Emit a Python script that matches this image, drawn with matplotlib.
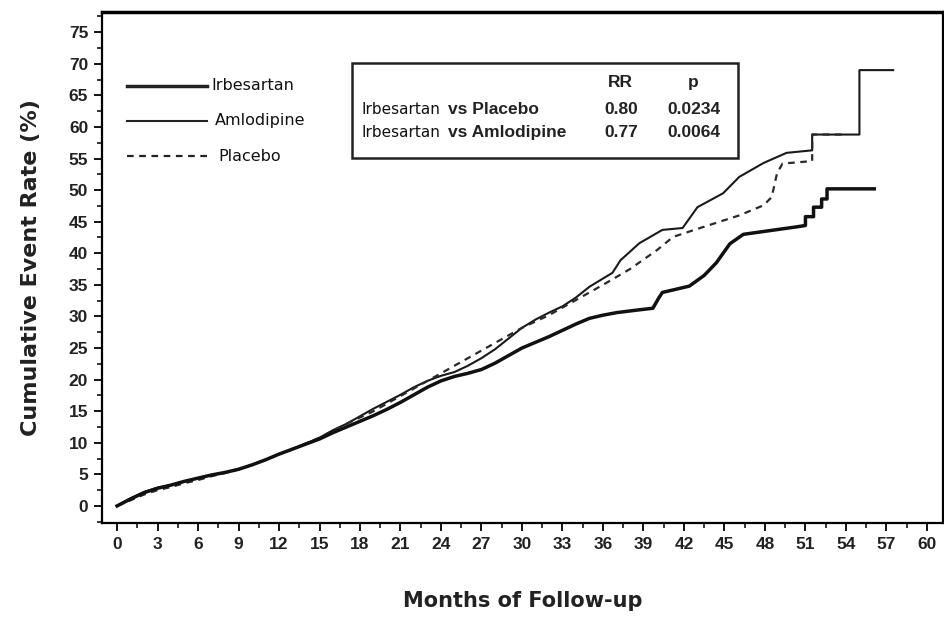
import matplotlib.pyplot as plt
from matplotlib.ticker import MultipleLocator
from matplotlib.patches import Rectangle

# months of follow-up and cumulative event rate (%)
irb_t = [0, 1, 2, 3, 4, 5, 6, 7, 8, 9, 10, 11, 12, 13, 14, 15, 16, 17, 18, 19, 20,
         21, 22, 23, 24, 25, 26, 27, 28, 29, 30, 31, 32, 33, 34, 35, 36, 37, 38.5,
         39.7, 40.1, 40.4, 42.4, 43.5, 44.4, 45.4, 46.4, 48.4, 50.4, 51.0, 51.0,
         51.6, 51.6, 52.2, 52.2, 52.6, 52.6, 56.1]
irb_y = [0, 1.1, 2.1, 2.8, 3.3, 3.9, 4.4, 4.9, 5.3, 5.8, 6.5, 7.3, 8.2, 9.0, 9.8, 10.6,
         11.6, 12.5, 13.4, 14.3, 15.3, 16.4, 17.6, 18.8, 19.8, 20.5, 21.0, 21.6, 22.6,
         23.8, 25.0, 25.9, 26.8, 27.8, 28.8, 29.7, 30.2, 30.6, 31.0, 31.3, 32.8, 33.8,
         34.8, 36.5, 38.5, 41.5, 43.0, 43.6, 44.2, 44.4, 45.8, 45.8, 47.3, 47.3, 48.6,
         48.6, 50.2, 50.2]

aml_t = [0, 1, 2, 3, 4, 5, 6, 7, 8, 9, 10, 11, 12, 13, 14, 15, 16, 17, 18, 19, 20,
         21, 22, 23, 24, 25, 26, 27, 28, 29, 30, 31, 32, 33, 34, 35, 36, 36.7, 37.3,
         38.7, 40.4, 41.9, 43.0, 44.9, 46.1, 47.9, 49.6, 51.5, 51.5, 55.0, 55.0, 57.5]
aml_y = [0, 1.2, 2.2, 2.9, 3.3, 3.9, 4.4, 4.9, 5.3, 5.8, 6.5, 7.3, 8.2, 9.0, 9.9, 10.8,
         12.0, 13.0, 14.2, 15.4, 16.5, 17.6, 18.8, 19.8, 20.6, 21.2, 22.2, 23.4, 24.8,
         26.5, 28.2, 29.5, 30.6, 31.6, 33.0, 34.7, 36.0, 36.9, 38.9, 41.6, 43.7, 44.0,
         47.3, 49.5, 52.1, 54.3, 55.9, 56.3, 58.8, 58.8, 69.0, 69.0]

pla_t = [0, 1, 2, 3, 4, 5, 6, 7, 8, 9, 10, 11, 12, 13, 14, 15, 16, 17, 18, 19, 20,
         21, 22, 23, 24, 25, 26, 27, 28, 29, 30, 31, 32, 33, 34, 35, 36, 38.0, 40.0,
         41.2, 43.2, 46.1, 47.9, 48.5, 48.9, 49.3, 51.5, 51.5, 53.8]
pla_y = [0, 0.9, 1.8, 2.5, 3.0, 3.6, 4.1, 4.7, 5.2, 5.8, 6.5, 7.3, 8.2, 9.0, 9.9, 10.8,
         11.9, 13.0, 14.0, 15.0, 16.2, 17.4, 18.6, 19.8, 21.0, 22.2, 23.4, 24.6, 25.8,
         27.0, 28.2, 29.2, 30.2, 31.4, 32.6, 33.8, 35.0, 37.5, 40.5, 42.6, 44.0, 46.0,
         47.6, 48.9, 52.7, 54.2, 54.6, 58.8, 58.8]

x_ticks = list(range(0, 61, 3))
y_ticks = list(range(0, 76, 5))

tick_font = ['Liberation Sans', 'DejaVu Sans']

fig = plt.figure(figsize=(9.45, 6.32), dpi=100)
ax = fig.add_axes([0.108, 0.1725, 0.890, 0.8085])

ax.plot(aml_t, aml_y, color='#1a1a1a', lw=1.5)
ax.plot(pla_t, pla_y, color='#2a2a2a', lw=1.6, ls=(0, (3, 2.5)))
ax.plot(irb_t, irb_y, color='#111111', lw=2.5)

ax.set_xlim(-1.11, 61.2)
ax.set_ylim(-2.7, 78.2)
ax.set_xticks(x_ticks)
ax.set_yticks(y_ticks)
ax.xaxis.set_minor_locator(MultipleLocator(1.5))
ax.yaxis.set_minor_locator(MultipleLocator(2.5))
ax.tick_params(which='major', length=6, width=1.3, labelsize=12.5, pad=4)
ax.tick_params(which='minor', length=3.5, width=1.1)
for lab in ax.get_xticklabels() + ax.get_yticklabels():
    lab.set_family(tick_font)
    lab.set_fontweight('bold')
    lab.set_color('#222222')
for s in ax.spines.values():
    s.set_linewidth(1.6)
ax.spines['top'].set_linewidth(2.5)

ax.set_xlabel('Months of Follow-up', fontsize=15, fontweight='bold',
              family=['DejaVu Sans'], labelpad=28, color='#222222')
ax.set_ylabel('Cumulative Event Rate (%)', fontsize=16, fontweight='bold',
              family=['DejaVu Sans'], labelpad=20, color='#222222')

# legend drawn by hand (no frame)
leg_names = ['Irbesartan', 'Amlodipine', 'Placebo']
leg_lw = [2.5, 1.5, 1.6]
leg_ls = ['-', '-', (0, (3, 2.5))]
leg_y = [0.864, 0.809, 0.753]
leg_tx = [0.224, 0.2275, 0.2307]
for name, lw, ls, yy, tx in zip(leg_names, leg_lw, leg_ls, leg_y, leg_tx):
    fig.add_artist(plt.Line2D([0.134, 0.219], [yy, yy], transform=fig.transFigure,
                              color='#222222', lw=lw, ls=ls))
    fig.text(tx, yy, name, fontsize=11.5, va='center',
             family=['DejaVu Sans'], color='#111111')

# RR / p box
fig.add_artist(Rectangle((0.3725, 0.750), 0.4085, 0.150, transform=fig.transFigure,
                         fill=False, lw=1.8, ec='#222222'))
fig.text(0.657, 0.870, 'RR', fontsize=12.5, fontweight='bold', ha='center', va='center',
         family=tick_font, color='#222222')
fig.text(0.734, 0.870, 'p', fontsize=12.5, fontweight='bold', ha='center', va='center',
         family=tick_font, color='#222222')
rows = [('vs Placebo', '0.80', '0.0234'), ('vs Amlodipine', '0.77', '0.0064')]
row_y = [0.826, 0.791]
for (cmp, rr, p), yy in zip(rows, row_y):
    fig.text(0.383, yy, 'Irbesartan', fontsize=11, va='center',
             family=['DejaVu Sans'], color='#111111')
    fig.text(0.474, yy, cmp, fontsize=12.5, fontweight='bold', va='center',
             family=tick_font, color='#222222')
    fig.text(0.657, yy, rr, fontsize=12.5, fontweight='bold', ha='center', va='center',
             family=tick_font, color='#222222')
    fig.text(0.734, yy, p, fontsize=12.5, fontweight='bold', ha='center', va='center',
             family=tick_font, color='#222222')

fig.savefig('out.png', dpi=100)
